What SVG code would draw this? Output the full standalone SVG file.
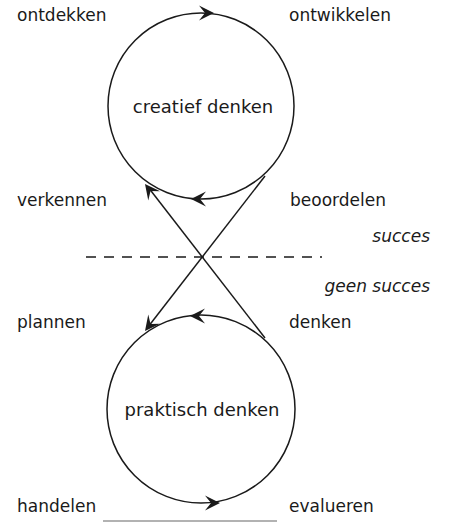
<svg xmlns="http://www.w3.org/2000/svg" width="453" height="523" viewBox="0 0 453 523">
<defs>
<style>
text{font-family:"DejaVu Sans",Verdana,sans-serif;font-size:17px;fill:#1a1a1a}
.it{font-style:italic;text-anchor:end}
.c{text-anchor:middle;font-size:18px}
.ln{fill:none;stroke:#1a1a1a;stroke-width:1.5}
.ah{fill:#1a1a1a}
</style>
<path id="arr" d="M0,0 L-15,-7.5 L-9,0 L-15,7.5 Z"/>
</defs>
<rect width="453" height="523" fill="#fff"/>
<g id="creatief">
<circle class="ln" cx="201" cy="106" r="93"/>
<text class="c" x="203" y="113">creatief denken</text>
</g>
<g id="praktisch">
<circle class="ln" cx="201" cy="409" r="94"/>
<text class="c" x="202" y="416">praktisch denken</text>
</g>
<g id="labels">
<text x="17" y="21">ontdekken</text>
<text x="289" y="21">ontwikkelen</text>
<text x="17" y="206">verkennen</text>
<text x="290" y="206">beoordelen</text>
<text class="it" x="430" y="242">succes</text>
<text class="it" x="430" y="292">geen succes</text>
<text x="17" y="328">plannen</text>
<text x="289" y="328">denken</text>
<text x="17" y="512">handelen</text>
<text x="289" y="512">evalueren</text>
</g>
<g id="connectors">
<line x1="86" y1="257" x2="322" y2="257" stroke="#1a1a1a" stroke-width="1.5" stroke-dasharray="10 8"/>
<line class="ln" x1="265" y1="176" x2="148" y2="327"/>
<line class="ln" x1="265" y1="338" x2="148" y2="187"/>
<line x1="103" y1="521" x2="277" y2="521" stroke="#999" stroke-width="1.5"/>
<use href="#arr" class="ah" transform="translate(214,13)"/>
<use href="#arr" class="ah" transform="translate(191,199) rotate(180)"/>
<use href="#arr" class="ah" transform="translate(190,316) rotate(180)"/>
<use href="#arr" class="ah" transform="translate(220,503)"/>
<use href="#arr" class="ah" transform="translate(145,331) rotate(127.8)"/>
<use href="#arr" class="ah" transform="translate(145,184) rotate(232.2)"/>
</g>
</svg>
